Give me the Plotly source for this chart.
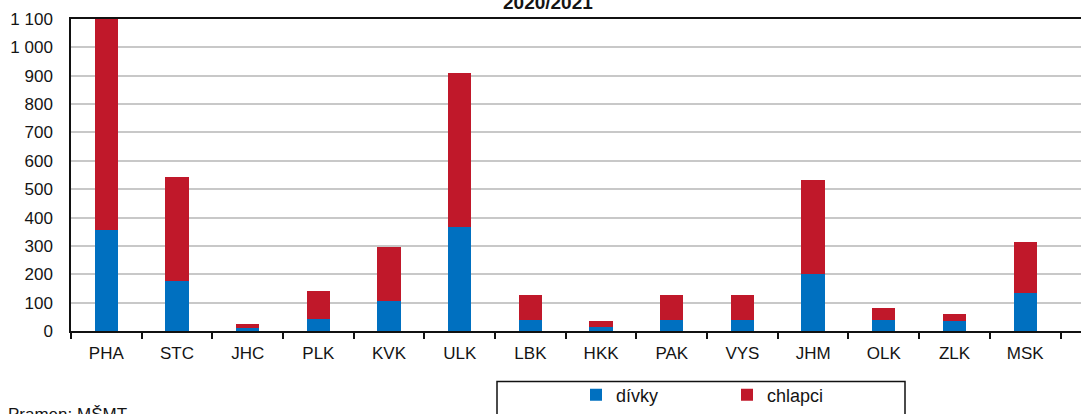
import plotly.graph_objects as go

categories = ["PHA", "STC", "JHC", "PLK", "KVK", "ULK", "LBK", "HKK", "PAK", "VYS", "JHM", "OLK", "ZLK", "MSK"]
divky = [355, 178, 10, 41, 106, 367, 40, 15, 40, 40, 202, 40, 34, 133]
chlapci = [755, 364, 13, 99, 189, 544, 86, 19, 86, 86, 331, 40, 25, 180]
y_tickvals = [0, 100, 200, 300, 400, 500, 600, 700, 800, 900, 1000, 1100]
y_ticktext = ["0", "100", "200", "300", "400", "500", "600", "700", "800", "900", "1 000", "1 100"]
title_text = "<b>2020/2021</b>"
source_text = "Pramen: MŠMT"

BLUE = "#0070C0"
RED = "#C0182A"
FONT = "Liberation Sans, Arial, sans-serif"
TXT = "#141414"

fig = go.Figure()
fig.add_trace(go.Bar(x=categories, y=divky, name="dívky", marker=dict(color=BLUE, line=dict(width=0))))
fig.add_trace(go.Bar(x=categories, y=chlapci, name="chlapci", marker=dict(color=RED, line=dict(width=0))))

fig.update_layout(
    width=1081, height=414,
    margin=dict(l=71, r=0, t=19, b=83),
    barmode="stack", bargap=0.67,
    plot_bgcolor="white", paper_bgcolor="white",
    font=dict(family=FONT, size=17, color=TXT),
    showlegend=True,
    legend=dict(orientation="h", x=0.500, y=-0.205, xanchor="left", yanchor="middle",
                font=dict(size=18, color=TXT), entrywidth=106, bgcolor="rgba(0,0,0,0)",
                traceorder="normal"),
    xaxis=dict(type="category", range=[-0.5, 13.79], tickson="boundaries",
               ticks="outside", ticklen=6, tickwidth=1.5, tickcolor="#111",
               showline=True, linecolor="#111", linewidth=1.5, mirror=True,
               showgrid=False, ticklabelstandoff=6, fixedrange=True),
    yaxis=dict(range=[0, 1100], tickvals=y_tickvals, ticktext=y_ticktext,
               showline=True, linecolor="#111", linewidth=1.5, mirror=False,
               showgrid=True, gridcolor="#c8c8c8", gridwidth=1.5,
               ticks="", ticklabelstandoff=13, zeroline=False, fixedrange=True),
)

fig.add_shape(type="rect", xref="paper", yref="paper",
              x0=(497 - 71) / 1010, x1=(905 - 71) / 1010,
              y0=-0.162, y1=-0.32, line=dict(color="#111", width=1.5), fillcolor="rgba(0,0,0,0)")

fig.add_annotation(text=title_text, xref="paper", yref="paper", x=(548 - 71) / 1010, y=1.0 + 4 / 311,
                   xanchor="center", yanchor="bottom", showarrow=False,
                   font=dict(size=19, color=TXT, family=FONT))
fig.add_annotation(text=source_text, xref="paper", yref="paper", x=-65 / 1010, y=-0.232,
                   xanchor="left", yanchor="top", showarrow=False,
                   font=dict(size=17, color=TXT, family=FONT))

fig.write_html("out.html", config={"displayModeBar": False},
               post_script="document.body.style.margin='0';")
